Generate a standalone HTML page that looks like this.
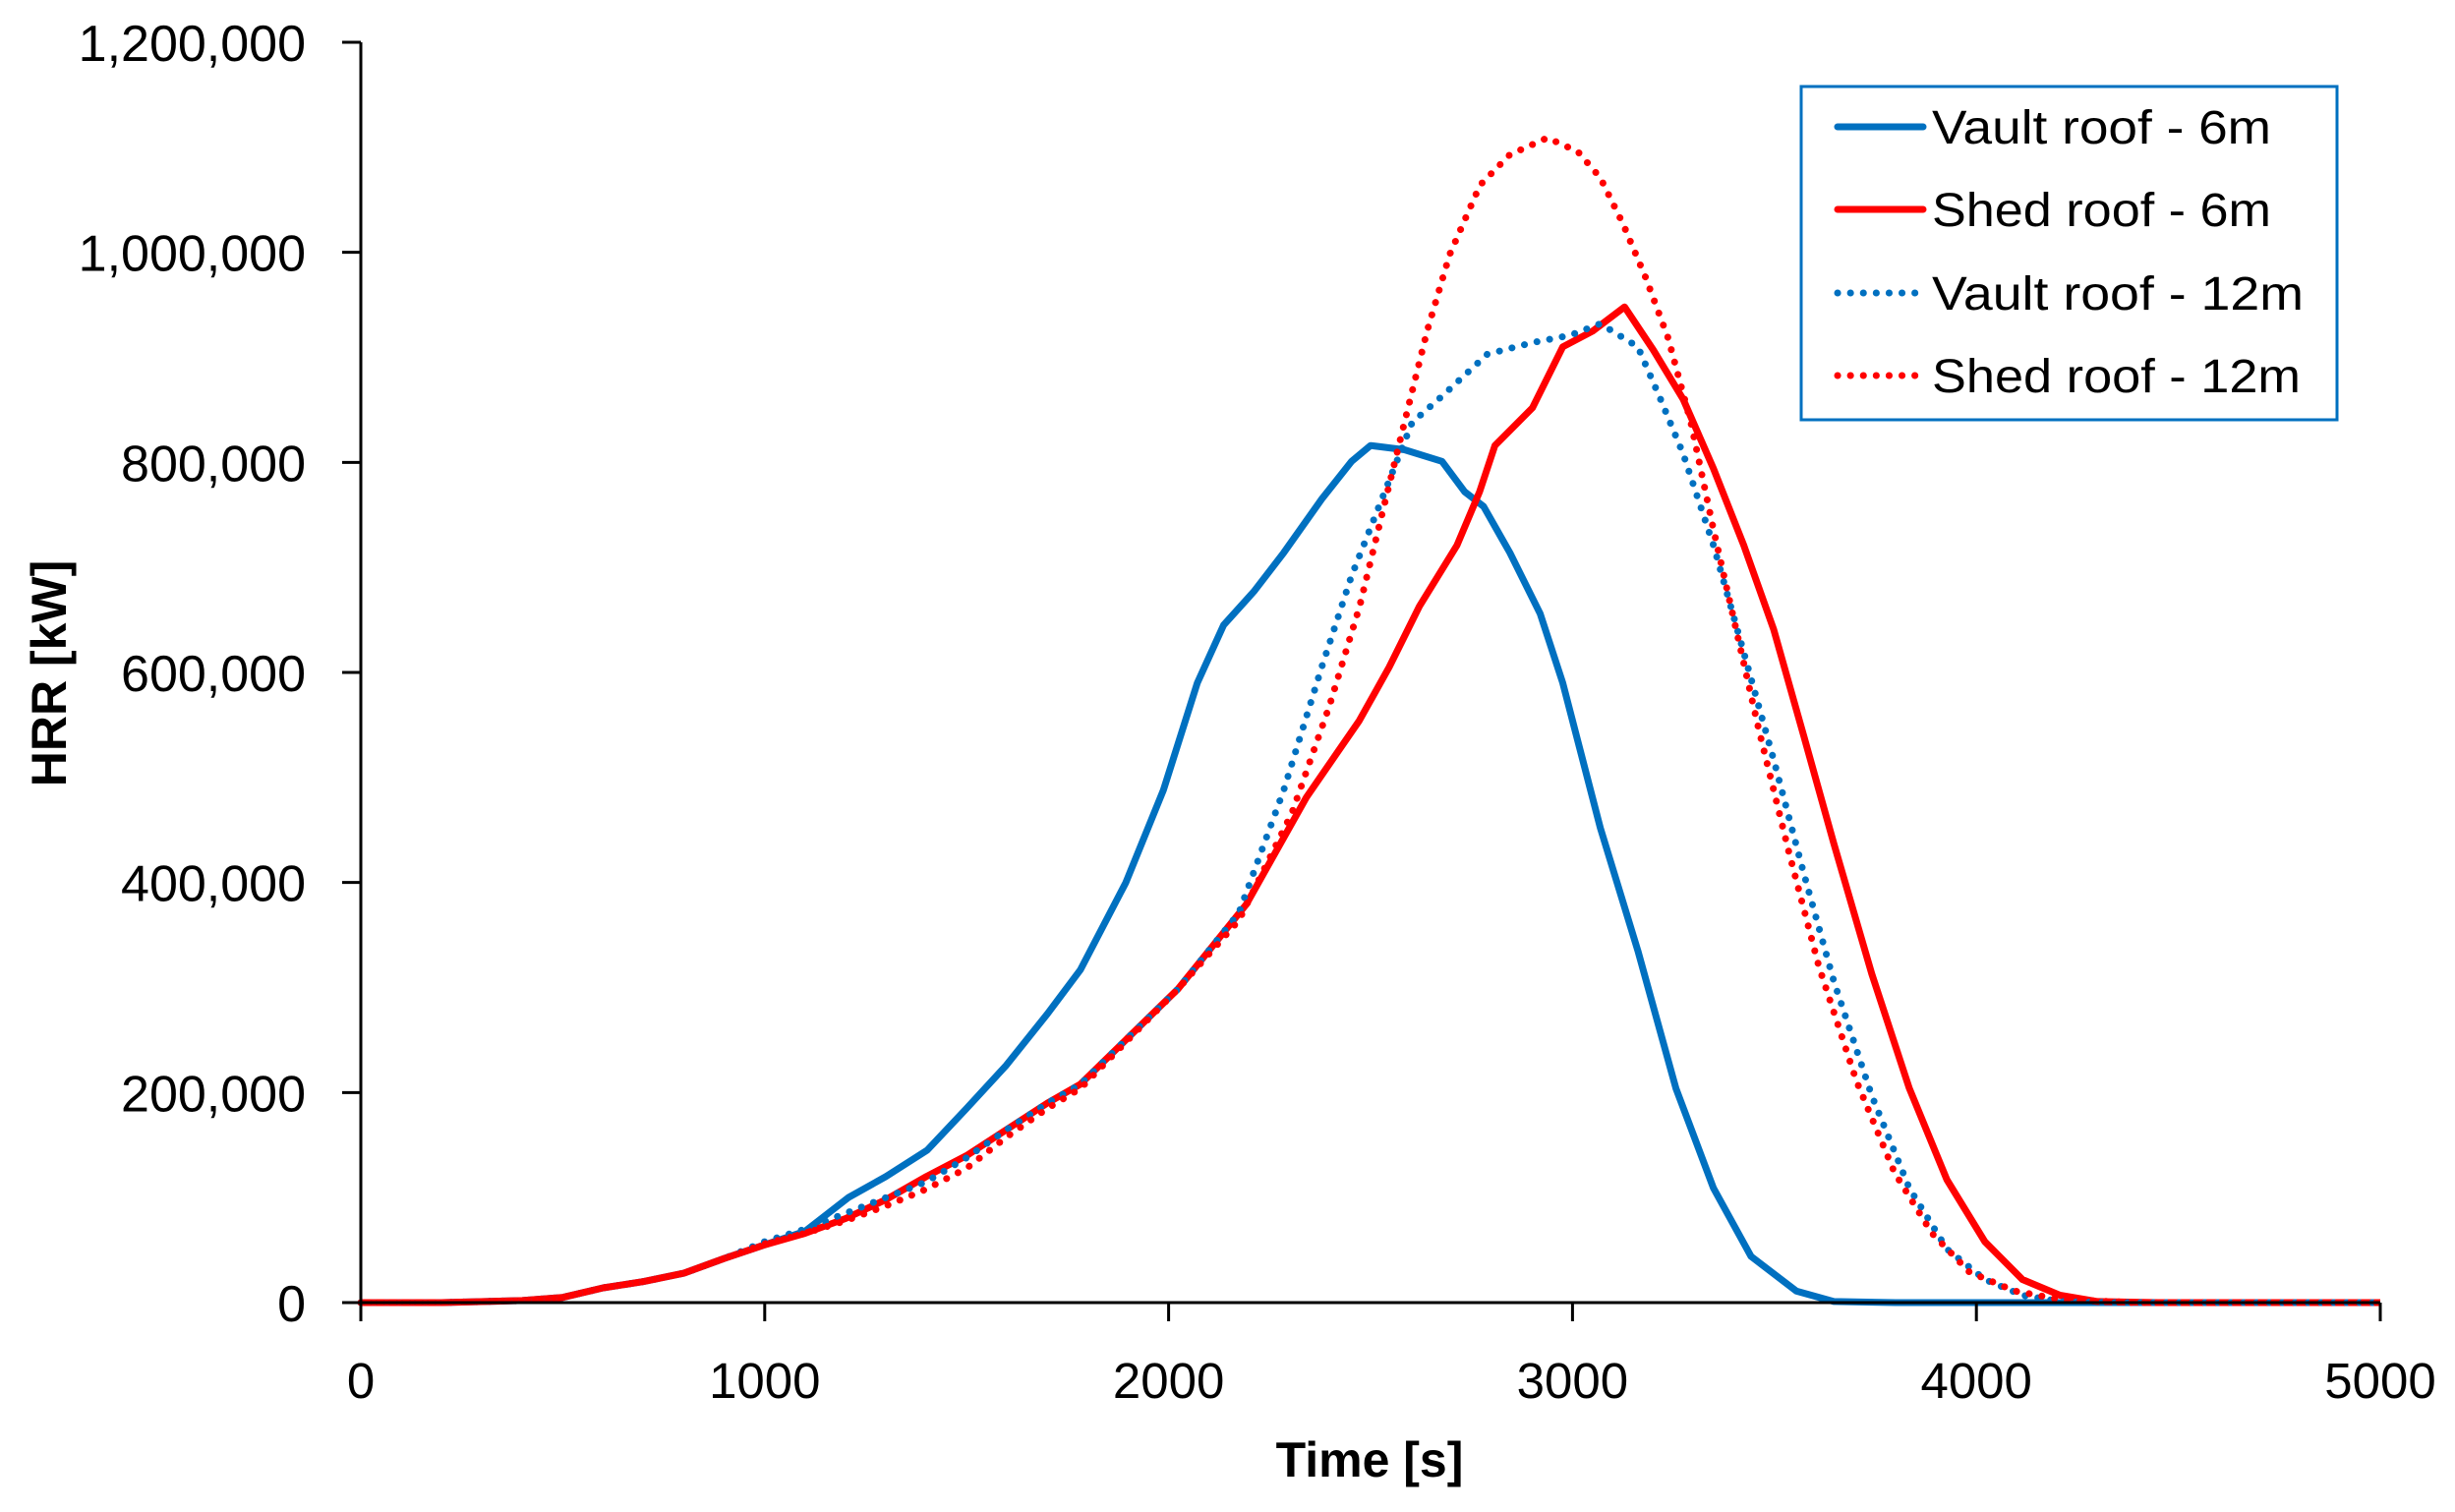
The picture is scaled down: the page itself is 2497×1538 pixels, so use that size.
<!DOCTYPE html>
<html><head><meta charset="utf-8"><style>
html,body{margin:0;padding:0;background:#fff;}
svg{display:block;font-family:"Liberation Sans",sans-serif;}
</style></head><body>
<svg id="chart" width="2497" height="1538" viewBox="0 0 2497 1538" xmlns="http://www.w3.org/2000/svg">
<rect width="2497" height="1538" fill="#fff"/>
<g id="grid"></g>
<g id="series"></g>
<g id="axes"></g>
</svg>
<script>
const xTicks = [0,1000,2000,3000,4000,5000];
const yTicks = [0,200000,400000,600000,800000,1000000,1200000];
const yTickLabels = ["0","200,000","400,000","600,000","800,000","1,000,000","1,200,000"];

const vault6T = [0,200,400,500,600,700,800,900,1000,1100,1207,1300,1402,1500,1598,1700,1782,1894,1987,2071,2136,2211,2285,2379,2453,2500,2584,2677,2733,2780,2845,2920,2976,3069,3162,3256,3349,3442,3554,3647,3800,5000];
const vault6V = [0,0,2000,5000,14000,20000,28000,42000,55000,68000,100000,120000,145000,185000,226000,275000,317000,400000,488000,590000,645000,677000,714000,765000,801000,816000,812000,801000,772000,758000,714000,656000,590000,452000,335000,204000,109000,44000,11000,1000,0,0];

const shed6T = [0,200,400,500,600,700,800,900,1000,1100,1200,1300,1400,1500,1600,1700,1782,2024,2192,2341,2472,2546,2621,2714,2770,2808,2901,2976,3050,3129,3200,3274,3349,3424,3498,3573,3647,3741,3834,3927,4021,4114,4207,4300,4450,5000];
const shed6V = [0,0,2000,5000,14000,20000,28000,42000,55000,66000,80000,98000,120000,140000,165000,190000,208000,299000,379000,481000,554000,605000,663000,721000,772000,816000,852000,910000,925000,948000,907000,860000,794000,721000,641000,539000,437000,313000,204000,117000,58000,22000,7000,1000,0,0];

const vault12T = [0,200,400,500,600,700,800,900,1000,1100,1200,1300,1400,1500,1600,1700,1782,2024,2174,2285,2379,2453,2528,2603,2677,2789,2901,2994,3069,3162,3218,3274,3349,3424,3498,3573,3647,3741,3834,3927,4021,4114,4207,4350,5000];
const vault12V = [0,0,2000,5000,14000,20000,28000,42000,58000,70000,85000,100000,115000,138000,165000,190000,208000,299000,371000,488000,605000,692000,765000,838000,863000,903000,914000,921000,932000,910000,860000,808000,721000,619000,517000,408000,306000,197000,109000,51000,22000,7000,1000,0,0];

const shed12T = [0,200,400,500,600,700,800,900,1000,1100,1200,1300,1400,1500,1600,1700,1782,2024,2174,2305,2398,2473,2528,2584,2640,2696,2771,2845,2938,3013,3069,3125,3181,3237,3293,3349,3405,3461,3535,3610,3703,3797,3890,3983,4095,4207,4394,5000];
const shed12V = [0,0,2000,5000,14000,20000,28000,42000,56000,66000,78000,92000,108000,128000,158000,185000,204000,299000,364000,466000,568000,663000,750000,838000,925000,998000,1064000,1093000,1109000,1096000,1071000,1027000,976000,918000,838000,736000,641000,546000,430000,320000,211000,124000,66000,29000,11000,3000,0,0];

const X0=367, X1=2421, Y0=1325, Y1=43;
const xMax=5000, yMax=1200000;
function xs(t){return X0+(t/xMax)*(X1-X0);}
function ys(v){return Y0-(v/yMax)*(Y0-Y1);}
const NS="http://www.w3.org/2000/svg";
function mk(tag,parent){const e=document.createElementNS(NS,tag);parent.appendChild(e);return e;}

const seriesG=document.getElementById('series');
const axesG=document.getElementById('axes');

function drawSeries(T,V,color,dotted,name){
  const p=mk('path',seriesG);
  
  
  let d='';
  for(let i=0;i<T.length;i++){d+=(i?'L':'M')+xs(T[i]).toFixed(1)+' '+ys(V[i]).toFixed(1);}
  p.setAttribute('d',d);
  p.setAttribute('fill','none');
  p.setAttribute('stroke',color);
  p.setAttribute('stroke-linejoin','round');
  if(dotted){p.setAttribute('stroke-width','7');p.setAttribute('stroke-dasharray','0.1 13');p.setAttribute('stroke-linecap','round');}
  else{p.setAttribute('stroke-width','7');}
}
drawSeries(vault6T,vault6V,'#0070C0',false,'series-vault-roof-6m');
drawSeries(shed6T,shed6V,'#FF0000',false,'series-shed-roof-6m');
drawSeries(vault12T,vault12V,'#0070C0',true,'series-vault-roof-12m');
drawSeries(shed12T,shed12V,'#FF0000',true,'series-shed-roof-12m');

const yAx=mk('line',axesG);


yAx.setAttribute('x1',X0);yAx.setAttribute('x2',X0);yAx.setAttribute('y1',Y1);yAx.setAttribute('y2',Y0+19);
yAx.setAttribute('stroke','#000');yAx.setAttribute('stroke-width','3');
const xAx=mk('line',axesG);


xAx.setAttribute('x1',X0-19);xAx.setAttribute('x2',X1);xAx.setAttribute('y1',Y0);xAx.setAttribute('y2',Y0);
xAx.setAttribute('stroke','#000');xAx.setAttribute('stroke-width','3');

yTicks.forEach((v,i)=>{
  const l=mk('line',axesG);
  
  
  l.setAttribute('x1',X0-19);l.setAttribute('x2',X0);l.setAttribute('y1',ys(v));l.setAttribute('y2',ys(v));
  l.setAttribute('stroke','#000');l.setAttribute('stroke-width','3');
  const t=mk('text',axesG);
  
  
  t.setAttribute('x',311);t.setAttribute('y',ys(v)+19);
  t.setAttribute('text-anchor','end');t.setAttribute('font-size','52');
  t.textContent=yTickLabels[i];
});
xTicks.forEach(v=>{
  const l=mk('line',axesG);
  
  
  l.setAttribute('x1',xs(v));l.setAttribute('x2',xs(v));l.setAttribute('y1',Y0);l.setAttribute('y2',Y0+19);
  l.setAttribute('stroke','#000');l.setAttribute('stroke-width','3');
  const t=mk('text',axesG);
  
  
  t.setAttribute('x',xs(v));t.setAttribute('y',1422);
  t.setAttribute('text-anchor','middle');t.setAttribute('font-size','51');
  t.textContent=String(v);
});
</script>
<svg style="position:absolute;left:0;top:0" width="2497" height="1538">
<text x="1393" y="1502" text-anchor="middle" font-family="Liberation Sans, sans-serif" font-weight="bold" font-size="50">Time [s]</text>
<text transform="translate(67,685) rotate(-90)" text-anchor="middle" font-family="Liberation Sans, sans-serif" font-weight="bold" font-size="50">HRR [kW]</text>
<g font-family="Liberation Sans, sans-serif" font-size="48">
<rect x="1832" y="88" width="545" height="339" fill="#fff" stroke="#0070C0" stroke-width="3"/>
<g><line x1="1869" y1="129" x2="1956" y2="129" stroke="#0070C0" stroke-width="7" stroke-linecap="round"/><text x="1965" y="146" textLength="345" lengthAdjust="spacingAndGlyphs">Vault roof - 6m</text></g>
<g><line x1="1869" y1="213" x2="1956" y2="213" stroke="#FF0000" stroke-width="7" stroke-linecap="round"/><text x="1965" y="230" textLength="345" lengthAdjust="spacingAndGlyphs">Shed roof - 6m</text></g>
<g><line x1="1869" y1="298" x2="1956" y2="298" stroke="#0070C0" stroke-width="7" stroke-linecap="round" stroke-dasharray="0.1 13"/><text x="1965" y="315" textLength="378" lengthAdjust="spacingAndGlyphs">Vault roof - 12m</text></g>
<g><line x1="1869" y1="382" x2="1956" y2="382" stroke="#FF0000" stroke-width="7" stroke-linecap="round" stroke-dasharray="0.1 13"/><text x="1965" y="399" textLength="375" lengthAdjust="spacingAndGlyphs">Shed roof - 12m</text></g>
</g>
</svg>
</body></html>
